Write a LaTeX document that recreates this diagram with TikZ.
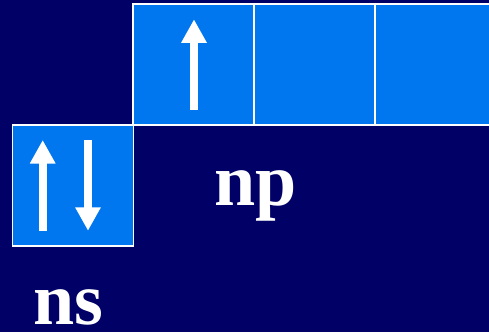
\documentclass[tikz,border=0pt]{standalone}
\usepackage{fontspec}
\setmainfont{Liberation Serif}
\usetikzlibrary{arrows.meta,calc}
\definecolor{navy}{RGB}{0,0,102}
\definecolor{orbital}{RGB}{0,119,238}
\tikzset{
  orb/.style={draw=white, line width=1.5pt, fill=orbital, minimum width=121pt,
              minimum height=121pt, inner sep=0pt, outer sep=0pt},
  spin/.style={draw=white, line width=8pt,
               -{Triangle[length=23.5pt, width=24pt]}},
  lbl/.style={text=white, inner sep=0pt, anchor=base west,
              font=\fontsize{74}{74}\selectfont\bfseries}
}
\begin{document}
\begin{tikzpicture}[x=1pt, y=-1pt]
  \useasboundingbox (0,0) rectangle (489,332);
  \clip (0,0) rectangle (489,332);
  \fill[navy] (0,0) rectangle (489,332);

  % p orbitals (top row) and s orbital
  \node[orb] (p1) at (193.5,64.5) {};
  \node[orb] (p2) at (314.5,64.5) {};
  \node[orb] (p3) at (435.5,64.5) {};
  \node[orb] (s)  at (73,185.5) {};

  % electron spins
  \draw[spin] ($(p1.center)+(0.5,45.5)$) -- ($(p1.center)+(0.5,-45.2)$);
  \draw[spin] ($(s.center)+(-30.3,45.3)$) -- ($(s.center)+(-30.3,-45.5)$);
  \draw[spin] ($(s.center)+(15,-45.5)$) -- ($(s.center)+(15,45.3)$);

  % labels
  \node[lbl] (np) at (214,205) {np};
  \node[lbl, text depth=0pt] (ns) at (33,324.5) {ns};
\end{tikzpicture}
\end{document}
